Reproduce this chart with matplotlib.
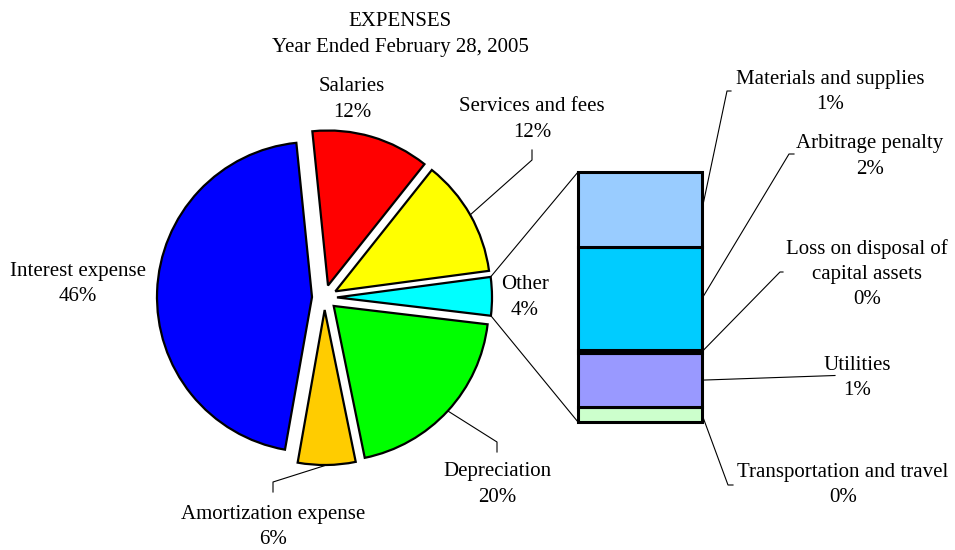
"""Pie of expenses with the 'Other' slice broken out into a stacked bar."""

import matplotlib
matplotlib.use('Agg')
from matplotlib import pyplot
import numpy

# Expenses, percent of total (year ended February 28, 2005).
bar_labels = ['Transportation and travel', 'Utilities',
              'Loss on disposal of\ncapital assets', 'Arbitrage penalty',
              'Materials and supplies']
bar_values = [0.24, 0.86, 0.05, 1.65, 1.2]
bar_colors = ['#CCFFCC', '#9999FF', '#000080', '#00CCFF', '#99CCFF']

pie_labels = ['Other', 'Services and fees', 'Salaries', 'Interest expense',
              'Amortization expense', 'Depreciation']
pie_values = [sum(bar_values), 12.2, 12.3, 45.6, 6.0, 19.9]
pie_colors = ['#00FFFF', '#FFFF00', '#FF0000', '#0000FF', '#FFCC00', '#00FF00']

title = 'EXPENSES\nYear Ended February 28, 2005'

W, H = 955, 550  # figure size in pixels; the main axes use pixel units


def fy(y):
    """Convert a pixel row (top = 0) to data y."""
    return H - y


def ty(y):
    """Same as fy, for text centres (small baseline correction)."""
    return H - y - 2.5


pyplot.rc('font', family='Liberation Serif', size=15)
fig = pyplot.figure(figsize=(W / 100, H / 100), dpi=100)
ax = fig.add_axes([0, 0, 1, 1])

wedges, _ = ax.pie(pie_values, colors=pie_colors, startangle=-6.8,
                   explode=[12.5] * len(pie_values), radius=155,
                   center=(324.5, fy(297.5)),
                   wedgeprops=dict(edgecolor='black', linewidth=1.6))
ax.set_xlim(0, W)
ax.set_ylim(0, H)
ax.set_aspect('auto')
ax.axis('off')

# Stacked bar for the break-out of 'Other'.
bax = fig.add_axes([578 / W, 128 / H, 124 / W, 250 / H])
bottoms = numpy.concatenate([[0], numpy.cumsum(bar_values)[:-1]])
bars = bax.bar(0.5, bar_values, width=1.0, bottom=bottoms, color=bar_colors,
               edgecolor='black', linewidth=2.2)
for b in bars:
    b.set_clip_on(False)
bax.set_xlim(0, 1)
bax.set_ylim(0, sum(bar_values))
bax.axis('off')


def bar_to_main(pt):
    return ax.transData.inverted().transform(bax.transData.transform(pt))


def wedge_point(w, theta):
    t = numpy.deg2rad(theta)
    return (w.center[0] + w.r * numpy.cos(t), w.center[1] + w.r * numpy.sin(t))


line_kw = dict(color='black', linewidth=0.8)

# Connector lines from the 'Other' slice to the bar.
other = wedges[0]
for theta, corner in [(other.theta2, (0, sum(bar_values))), (other.theta1, (0, 0))]:
    p0 = wedge_point(other, theta)
    p1 = bar_to_main(corner)
    ax.plot([p0[0], p1[0]], [p0[1], p1[1]], **line_kw)

ax.text(400, ty(32), title, ha='center', va='center', linespacing=1.45)

# Pie labels: text centre and leader elbow (pixel coords, None = no leader).
pie_text_pos = [(525, 295), (532, 117), (352, 97), (78, 281.5),
                (273, 524.5), (497, 482)]
pie_elbows = [None, [(532, 160), (532, 150)], None, None,
              [(273, 482), (273, 492)], [(497, 442), (497, 452)]]
for w, lab, val, pos, elbow in zip(wedges, pie_labels, pie_values,
                                   pie_text_pos, pie_elbows):
    ax.text(pos[0], ty(pos[1]), f'{lab}\n{val:.0f}%', ha='center',
            va='center', linespacing=1.45)
    if elbow:
        p0 = wedge_point(w, (w.theta1 + w.theta2) / 2)
        xs = [p0[0]] + [e[0] for e in elbow]
        ys = [p0[1]] + [fy(e[1]) for e in elbow]
        ax.plot(xs, ys, **line_kw)

# Bar labels.
bar_text_pos = [(843, 482.5), (857, 375.5), (867, 271.5), (870, 154),
                (830, 89.5)]
bar_elbows = [[(728, 485), (733, 485)], [(835, 375.5)],
              [(780, 272), (783, 272)], [(789, 154), (794, 154)],
              [(727, 91), (731, 91)]]
for lab, val, bot, pos, elbow in zip(bar_labels, bar_values, bottoms,
                                     bar_text_pos, bar_elbows):
    ax.text(pos[0], ty(pos[1]), f'{lab}\n{val:.0f}%', ha='center',
            va='center', linespacing=1.45)
    p0 = bar_to_main((1, bot + val / 2))
    xs = [p0[0]] + [e[0] for e in elbow]
    ys = [p0[1]] + [fy(e[1]) for e in elbow]
    ax.plot(xs, ys, **line_kw)

fig.savefig('out.png', dpi=100)
